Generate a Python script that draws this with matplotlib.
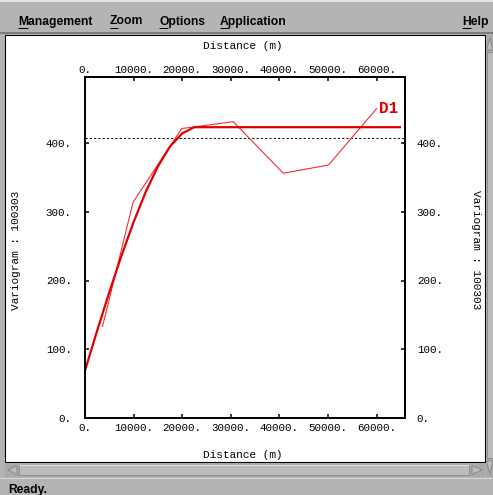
import matplotlib
matplotlib.use("Agg")
import matplotlib.pyplot as plt
from matplotlib.patches import Rectangle, Polygon
from matplotlib.lines import Line2D
from matplotlib.ticker import FuncFormatter

# experimental variogram (lag distance, value)
exp_dist = [3600, 9900, 19900, 30500, 40800, 50100, 60000]
exp_vals = [133, 314, 421, 431, 356, 368, 450]

# fitted model curve
model_dist = [0, 2500, 5000, 7500, 10000, 12500, 15000, 17500, 20000, 22500, 23000, 64800]
model_vals = [69, 127, 183, 236, 285, 329, 366, 395, 414, 423, 423, 423]

sill = 408
x_ticks = [0, 10000, 20000, 30000, 40000, 50000, 60000]
y_ticks = [0, 100, 200, 300, 400]
menu_items = ["Management", "Zoom", "Options", "Application"]

W, H = 493, 495
MONO = "Liberation Mono"
SANS = "Liberation Sans"
GRAY = "#b4b4b4"

fig = plt.figure(figsize=(W / 100, H / 100), dpi=100, facecolor=GRAY)


def fx(x):
    return x / W


def fy(y):
    return 1 - y / H


def box(x0, y0, x1, y1, fc, ec="none", lw=0):
    fig.add_artist(Rectangle((fx(x0), fy(y1)), (x1 - x0) / W, (y1 - y0) / H,
                             transform=fig.transFigure, facecolor=fc,
                             edgecolor=ec, linewidth=lw, zorder=-2))


def seg(x0, y0, x1, y1, color, lw=1.0):
    fig.add_artist(Line2D([fx(x0), fx(x1)], [fy(y0), fy(y1)],
                          transform=fig.transFigure, color=color,
                          linewidth=lw * 0.72, solid_capstyle="butt"))


def tri(pts, fc, ec):
    fig.add_artist(Polygon([(fx(x), fy(y)) for x, y in pts], closed=True,
                           transform=fig.transFigure, facecolor=fc,
                           edgecolor=ec, linewidth=0.7))


# window chrome: menu bar
seg(0, 1, W, 1, "#e2e2e2", 2)
seg(0, 33, W, 33, "#7c7c7c", 2)

renderer = fig.canvas.get_renderer()


def menu_label(x, s):
    t = fig.text(fx(x), fy(24.5), s, ha="left", va="baseline", family=SANS,
                 weight="bold", size=8.7, color="black")
    first = fig.text(fx(x), fy(24.5), s[0], ha="left", va="baseline",
                     family=SANS, weight="bold", size=8.7)
    bb = first.get_window_extent(renderer)
    first.remove()
    seg(x, 28, x + bb.width, 28, "black", 1)
    return t


for x, s in zip([18, 110, 159, 220], menu_items):
    menu_label(x, s)
menu_label(462, "Help")

# drawing area
box(5, 35, 485, 462, "white", "black", 0.8)

# horizontal scrollbar
box(5, 463, 485, 477, "#a9a9a9")
box(19, 465, 469, 475, "#bcbcbc", "#8a8a8a", 0.6)
seg(19, 465, 469, 465, "#e0e0e0", 1)
tri([(8, 470), (17, 465.5), (17, 474.5)], "#bcbcbc", "#8a8a8a")
tri([(482, 470), (472, 465.5), (472, 474.5)], "#bcbcbc", "#8a8a8a")

# vertical scrollbar
box(486, 35, W, 477, "#a9a9a9")
box(487, 52, W, 458, "#bcbcbc", "#8a8a8a", 0.6)
tri([(490, 38), (486.5, 50), (W, 50)], "#bcbcbc", "#8a8a8a")
tri([(490, 474), (486.5, 461), (W, 461)], "#bcbcbc", "#8a8a8a")

# status bar
seg(0, 478, W, 478, "#d8d8d8", 1)
fig.text(fx(8), fy(493), "Ready.", ha="left", va="baseline", family=SANS,
         weight="bold", size=8.7, color="black")

# variogram axes
ax = fig.add_axes([fx(85), fy(418), 320 / W, 341 / H])
ax.set_zorder(5)
ax.patch.set_alpha(0)
ax.set_xlim(0, 65840)
ax.set_ylim(0, 496)

ax.axhline(sill, color="black", lw=0.7, ls=(0, (2.2, 2.2)))
ax.plot(exp_dist, exp_vals, color="#f23030", lw=0.8)
ax.plot(model_dist, model_vals, color="#e00000", lw=1.6)
ax.annotate("D1", (exp_dist[-1], exp_vals[-1]), xytext=(2, 0),
            textcoords="offset points", ha="left", va="center",
            family=MONO, weight="bold", size=11.5, color="#e00000")

fmt = FuncFormatter(lambda v, p: f"{v:.0f}.")
for s in ax.spines.values():
    s.set_linewidth(1.4)

ax.set_xticks(x_ticks)
ax.set_yticks(y_ticks)
ax.xaxis.set_major_formatter(fmt)
ax.yaxis.set_major_formatter(fmt)
ax.tick_params(direction="in", length=3, width=1.1, labelsize=7.8,
               top=True, right=True)
ax.tick_params(axis="x", pad=3.5)
ax.tick_params(axis="y", pad=9.5)

top = ax.secondary_xaxis("top")
top.set_xticks(x_ticks)
top.xaxis.set_major_formatter(fmt)
top.tick_params(direction="in", length=0, labelsize=7.8, pad=1.5)
top.spines["top"].set_linewidth(1.4)

right = ax.secondary_yaxis("right")
right.set_yticks(y_ticks)
right.yaxis.set_major_formatter(fmt)
right.tick_params(direction="in", length=0, labelsize=7.8, pad=8.5)
right.spines["right"].set_linewidth(1.4)

for a in (ax, top, right):
    for lbl in a.get_xticklabels() + a.get_yticklabels():
        lbl.set_family(MONO)

fig.text(fx(243), fy(46), "Distance (m)", ha="center", va="center",
         family=MONO, size=8)
fig.text(fx(243), fy(455), "Distance (m)", ha="center", va="center",
         family=MONO, size=8)
fig.text(fx(16), fy(250), "Variogram : 100303", ha="center", va="center",
         rotation=90, family=MONO, size=8)
fig.text(fx(476), fy(250), "Variogram : 100303", ha="center", va="center",
         rotation=-90, family=MONO, size=8)

fig.savefig("out.png", dpi=100, facecolor=GRAY)
